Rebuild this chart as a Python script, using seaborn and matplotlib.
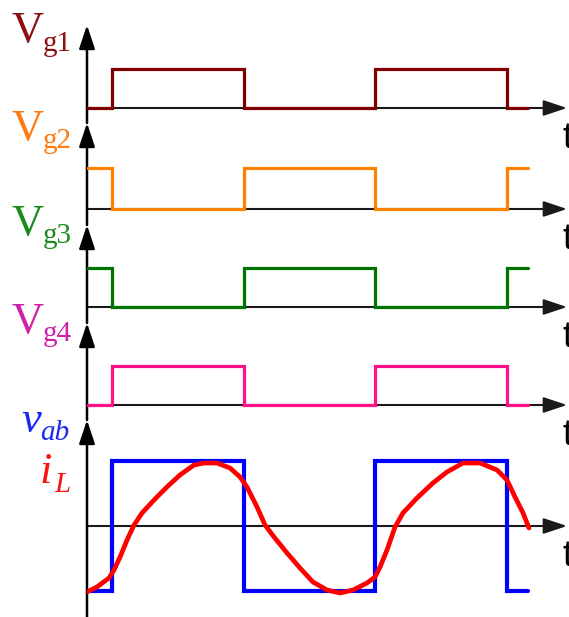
import matplotlib
matplotlib.use("Agg")
import matplotlib.pyplot as plt
import seaborn as sns
import pandas as pd

sns.set_theme(style="white")

# Switching instants (in units of half a switching period) and gate levels
edges = [0.0, 0.19, 1.19, 2.19, 3.19, 3.35]
vg1 = [0, 1, 0, 1, 0, 0]
vg2 = [1, 0, 1, 0, 1, 1]
vg3 = [1, 0, 1, 0, 1, 1]
vg4 = [0, 1, 0, 1, 0, 0]
vab = [-1, 1, -1, 1, -1, -1]

# Inductor current samples (normalised)
il_t = [0.000, 0.076, 0.167, 0.205, 0.251, 0.304, 0.357, 0.418, 0.509, 0.607,
        0.706, 0.812, 0.888, 0.987, 1.086, 1.162, 1.215, 1.291, 1.352, 1.420,
        1.519, 1.617, 1.716, 1.822, 1.921, 2.020, 2.126, 2.187, 2.225, 2.278,
        2.339, 2.399, 2.506, 2.627, 2.733, 2.855, 2.984, 3.113, 3.189, 3.250,
        3.311, 3.356]
il_v = [-1.015, -0.938, -0.800, -0.677, -0.477, -0.215, 0.015, 0.200, 0.400, 0.600,
        0.785, 0.938, 0.969, 0.969, 0.892, 0.754, 0.600, 0.292, 0.015, -0.169,
        -0.415, -0.646, -0.862, -0.985, -1.031, -0.985, -0.877, -0.785, -0.631, -0.369,
        -0.015, 0.200, 0.431, 0.662, 0.831, 0.969, 0.969, 0.862, 0.708, 0.446,
        0.200, -0.031]

W, H = 569, 617
fig = plt.figure(figsize=(W / 100, H / 100), dpi=100)

PX_PER_T = 131.7
X0 = 87
XMAX = (W - X0) / PX_PER_T
T_TIP = (567 - X0) / PX_PER_T

# (top, baseline, bottom, px per unit) for each trace strip
strips = [
    (25, 108, 123, 39),
    (123, 209, 225, 41),
    (225, 307, 323, 39),
    (323, 405, 420, 39),
    (420, 526, 617, 65),
]

series = [
    (vg1, "#800000"),
    (vg2, "#ff8000"),
    (vg3, "#007400"),
    (vg4, "#ff1088"),
    (vab, "#0000ff"),
]

axis_col = "#1a1a1a"
arrow_style = "-|>,head_length=0.6,head_width=0.2"

axes = []
for (top, base, bottom, unit), (levels, col) in zip(strips, series):
    ax = fig.add_axes([X0 / W, 1 - bottom / H, (W - X0) / W, (bottom - top) / H])
    ax.set_xlim(0, XMAX)
    ax.set_ylim(-(bottom - base) / unit, (base - top) / unit)
    ax.axis("off")

    # time axis with arrow
    ax.annotate("", xy=(T_TIP, 0), xytext=(0, 0), xycoords="data",
                arrowprops=dict(arrowstyle=arrow_style, mutation_scale=24,
                                lw=1.5, color=axis_col, shrinkA=0, shrinkB=0),
                annotation_clip=False, zorder=1)
    # vertical axis with arrow
    ax.annotate("", xy=(0, 1), xytext=(0, 0), xycoords="axes fraction",
                arrowprops=dict(arrowstyle=arrow_style, mutation_scale=24,
                                lw=1.8, color="black", shrinkA=0, shrinkB=0),
                annotation_clip=False, zorder=1)
    ax.annotate("t", xy=(3.607, 0), xytext=(0, -29), textcoords="offset points",
                ha="left", va="baseline", fontsize=26, family="Liberation Sans",
                color="black", annotation_clip=False)

    df = pd.DataFrame({"t": edges, "v": levels})
    lw = 3.0 if levels is vab else 2.3
    sns.lineplot(data=df, x="t", y="v", ax=ax, color=col, lw=lw,
                 drawstyle="steps-post", estimator=None, sort=False,
                 zorder=3, solid_joinstyle="miter")
    ax.set_xlim(0, XMAX)
    ax.axis("off")
    axes.append(ax)

# inductor current over the bridge voltage
il_df = pd.DataFrame({"t": il_t, "i": il_v})
sns.lineplot(data=il_df, x="t", y="i", ax=axes[-1], color="#ff0000", lw=3.4,
             estimator=None, sort=False, zorder=4,
             solid_joinstyle="round", solid_capstyle="round")
axes[-1].axis("off")

# Signal names
serif = "Liberation Serif"


def label(main, sub, x, y_main, y_sub, x_sub, color, italic=False):
    st = "italic" if italic else "normal"
    fig.text(x / W, 1 - y_main / H, main, fontsize=32, family=serif,
             style=st, color=color, ha="left", va="baseline")
    fig.text(x_sub / W, 1 - y_sub / H, sub, fontsize=21, family=serif,
             style=st, color=color, ha="left", va="baseline")


label("V", "g1", 12, 42, 51, 43, "#8b1010")
label("V", "g2", 12, 140, 148, 43, "#ff7a10")
label("V", "g3", 12, 235, 243, 43, "#1a8a1a")
label("V", "g4", 12, 333, 341, 43, "#d020a8")
label("v", "ab", 21, 432, 440, 40, "#1a2af0", italic=True)
label("i", "L", 40, 483, 492, 54, "#ff1010", italic=True)

fig.savefig("out.png", dpi=100)
